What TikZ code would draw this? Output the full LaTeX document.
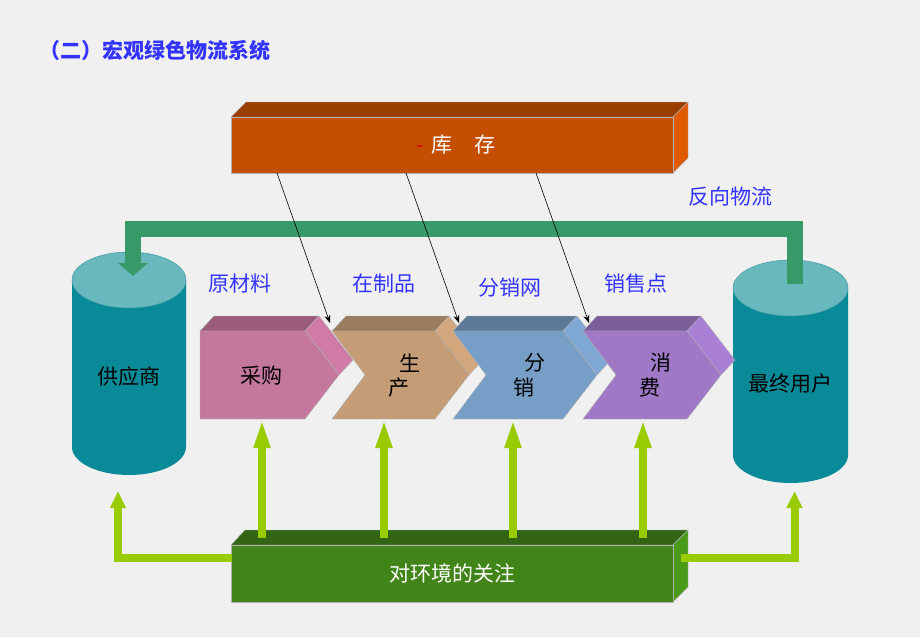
\documentclass[tikz,border=0pt]{standalone}
\usepackage{fontspec}
\newfontfamily\cjk{Noto Sans CJK SC}
\usetikzlibrary{arrows.meta}
\definecolor{bg}{HTML}{F0F0F0}
\definecolor{lblue}{HTML}{3333FF}
\definecolor{cylbody}{HTML}{088A98}
\definecolor{cyltop}{HTML}{68B8BE}
\definecolor{cyledge}{HTML}{3F9CA4}
\definecolor{revgreen}{HTML}{389A68}
\definecolor{lgreen}{HTML}{99CC00}
\definecolor{envfront}{HTML}{418417}
\definecolor{envtop}{HTML}{326414}
\definecolor{envright}{HTML}{4A9A1A}
\definecolor{invfront}{HTML}{C44F00}
\definecolor{invtop}{HTML}{9A3E00}
\definecolor{invright}{HTML}{E05B00}
\definecolor{pinkF}{HTML}{C5789D}
\definecolor{pinkT}{HTML}{9B5C7B}
\definecolor{pinkR}{HTML}{D07BA6}
\definecolor{tanF}{HTML}{C49C76}
\definecolor{tanT}{HTML}{9A7C5E}
\definecolor{tanR}{HTML}{D3A77D}
\definecolor{bluF}{HTML}{779EC6}
\definecolor{bluT}{HTML}{5C7A98}
\definecolor{bluR}{HTML}{80A8D4}
\definecolor{purF}{HTML}{9F78C6}
\definecolor{purT}{HTML}{7B5E9A}
\definecolor{purR}{HTML}{AA80D6}
\begin{document}
\begin{tikzpicture}[x=1pt,y=-1pt,
  txt/.style={font=\cjk\fontsize{21}{24}\selectfont, inner sep=0pt},
  lbl/.style={txt, text=lblue},
  edge/.style={draw=black!30, line width=0.4pt},
  thinarrow/.style={draw=black, line width=0.6pt, -{Stealth[length=8pt,width=6pt]}},
  revarrow/.style={draw=revgreen, line width=16pt, line join=miter, -{Triangle[length=13pt,width=29pt]}},
  envarrow/.style={draw=lgreen, line width=8pt, -{Triangle[length=29pt,width=15pt]}},
  sidearrow/.style={draw=lgreen, line width=8pt, line join=miter, -{Triangle[length=17pt,width=15pt]}},
]
\useasboundingbox (0,0) rectangle (920,637);
\fill[bg] (0,0) rectangle (920,637);

% title
\node[txt, text=lblue, anchor=west, font=\cjk\bfseries\fontsize{21}{24}\selectfont] (title) at (39,50) {（二）宏观绿色物流系统};

% cylinders
\fill[cylbody] (72,280) -- (72,447) arc[start angle=180,end angle=0,x radius=57,y radius=28] -- (186,280) -- cycle;
\fill[cyltop, draw=cyledge, line width=0.5pt] (129,280) ellipse[x radius=57, y radius=28];
\node[txt] (sup) at (129,377) {供应商};

\fill[cylbody] (733,288) -- (733,455) arc[start angle=180,end angle=0,x radius=57.5,y radius=28] -- (848,288) -- cycle;
\fill[cyltop, draw=cyledge, line width=0.5pt] (790.5,288) ellipse[x radius=57.5, y radius=28];
\node[txt] (user) at (790.5,384) {最终用户};

% reverse flow
\coordinate (revstart) at (794.5,284);
\coordinate (revend) at (133,276);
\draw[revarrow] (revstart) |- (133,229) -- (revend);
\node[lbl] (revlbl) at (730,197) {反向物流};

% inventory box
\fill[invtop, edge] (231,117) -- (246,102) -- (688,102) -- (673,117) -- cycle;
\fill[invright, edge] (673,117) -- (688,102) -- (688,158) -- (673,173) -- cycle;
\node[fill=invfront, edge, minimum width=442pt, minimum height=56pt, anchor=north west, inner sep=0pt] (inv) at (231,117) {};
\node[txt, text=white, anchor=west] (invtxt) at (416,145) {\textcolor{red!85!black}{-}\hspace{8pt}库\hspace{22pt}存};

% chevrons
% 1 pink (pentagon) L=200 R=305
\fill[pinkT, edge] (200,331) -- (214,316) -- (319,316) -- (305,331) -- cycle;
\fill[pinkR, edge] (305,331) -- (319,316) -- (353,360) -- (339,375) -- cycle;
\fill[pinkF, edge] (200,331) -- (305,331) -- (339,375) -- (305,419) -- (200,419) -- cycle;
\node[txt] (cg) at (261,376) {采购};
% 2 tan L=332 R=435
\fill[tanT, edge] (332,331) -- (346,316) -- (449,316) -- (435,331) -- cycle;
\fill[tanR, edge] (435,331) -- (449,316) -- (483,360) -- (469,375) -- cycle;
\fill[tanF, edge] (332,331) -- (435,331) -- (469,375) -- (435,419) -- (332,419) -- (365,375) -- cycle;
\node[txt] (sc1) at (410,363) {生};
\node[txt] (sc2) at (399,388) {产};
% 3 blue L=453 R=563
\fill[bluT, edge] (453,331) -- (467,316) -- (577,316) -- (563,331) -- cycle;
\fill[bluR, edge] (563,331) -- (577,316) -- (611,360) -- (597,375) -- cycle;
\fill[bluF, edge] (453,331) -- (563,331) -- (597,375) -- (563,419) -- (453,419) -- (486,375) -- cycle;
\node[txt] (fx1) at (535,363) {分};
\node[txt] (fx2) at (524,388) {销};
% 4 purple L=583 R=687
\fill[purT, edge] (583,331) -- (597,316) -- (701,316) -- (687,331) -- cycle;
\fill[purR, edge] (687,331) -- (701,316) -- (735,360) -- (721,375) -- cycle;
\fill[purF, edge] (583,331) -- (687,331) -- (721,375) -- (687,419) -- (583,419) -- (616,375) -- cycle;
\node[txt] (xf1) at (661,363) {消};
\node[txt] (xf2) at (650,388) {费};

% labels
\node[lbl] (l1) at (240,284) {原材料};
\node[lbl] (l2) at (384,284) {在制品};
\node[lbl] (l3) at (510,288) {分销网};
\node[lbl] (l4) at (636,284) {销售点};

% inventory arrows
\coordinate (s1) at (277,173);
\coordinate (s2) at (406,173);
\coordinate (s3) at (536,173);
\coordinate (t1) at (330,323);
\coordinate (t2) at (459,323);
\coordinate (t3) at (589,323);
\draw[thinarrow] (s1) -- (t1);
\draw[thinarrow] (s2) -- (t2);
\draw[thinarrow] (s3) -- (t3);

% environment box
\fill[envtop, edge] (231,545) -- (245,530) -- (688,530) -- (673,545) -- cycle;
\fill[envright, edge] (673,545) -- (688,530) -- (688,587) -- (673,602) -- cycle;
\node[fill=envfront, edge, minimum width=442pt, minimum height=57pt, anchor=north west, inner sep=0pt,
      txt, text=white] (env) at (231,545) {对环境的关注};

% environment arrows
\coordinate (e1) at (262,538); \coordinate (b1) at (262,419);
\coordinate (e2) at (384,538); \coordinate (b2) at (384,419);
\coordinate (e3) at (513,538); \coordinate (b3) at (513,419);
\coordinate (e4) at (643,538); \coordinate (b4) at (643,419);
\draw[envarrow] (e1) -- (b1);
\draw[envarrow] (e2) -- (b2);
\draw[envarrow] (e3) -- (b3);
\draw[envarrow] (e4) -- (b4);
\coordinate (el) at (232,558); \coordinate (supb) at (118,491);
\coordinate (er) at (681,558); \coordinate (userb) at (794.5,491);
\draw[sidearrow] (el) -| (supb);
\draw[sidearrow] (er) -| (userb);
\end{tikzpicture}
\end{document}
